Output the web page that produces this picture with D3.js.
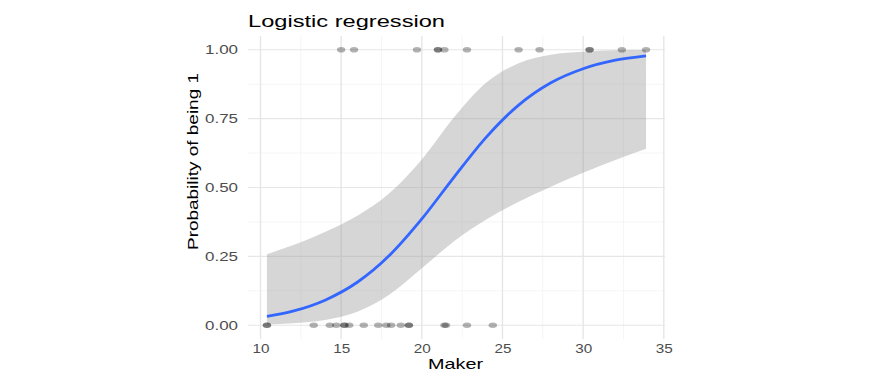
<!DOCTYPE html>
<html>
<head>
<meta charset="utf-8">
<script src="https://cdn.jsdelivr.net/npm/d3@7"></script>
<style>
  body { margin: 0; background: #fff; }
  text { font-family: "Liberation Sans", Arial, sans-serif; }
</style>
</head>
<body>
<svg id="chart" width="880" height="375"></svg>
<script>
// mpg of cars, split by the 0/1 outcome
var mpgZero = [21.4, 18.7, 18.1, 14.3, 24.4, 22.8, 19.2, 17.8, 16.4, 17.3, 15.2, 10.4, 10.4, 14.7, 21.5, 15.5, 15.2, 13.3, 19.2];
var mpgOne = [21.0, 21.0, 22.8, 32.4, 30.4, 33.9, 27.3, 26.0, 30.4, 15.8, 19.7, 15.0, 21.4];

// fitted curve and its band
var curveX = [10.4, 12, 14, 16, 18, 20, 22, 24, 26, 28, 30, 32, 33.9];
var fitP = [0.032, 0.051, 0.091, 0.156, 0.254, 0.386, 0.538, 0.683, 0.799, 0.880, 0.931, 0.962, 0.978];
var lowerP = [0.003, 0.007, 0.019, 0.049, 0.112, 0.207, 0.305, 0.384, 0.448, 0.503, 0.554, 0.600, 0.641];
var upperP = [0.258, 0.290, 0.338, 0.397, 0.480, 0.602, 0.755, 0.881, 0.951, 0.982, 0.993, 0.998, 0.999];

var xTicks = [10, 15, 20, 25, 30, 35],
	xMinor = [12.5, 17.5, 22.5, 27.5, 32.5],
	yTicks = [0, 0.25, 0.5, 0.75, 1],
	yMinor = [0.125, 0.375, 0.625, 0.875];

function draw(){

	var svg = d3.select("#chart");

	var pLeft = 248, pRight = 665, pTop = 36, pBottom = 339;

	var x = d3.scaleLinear().domain([9.225, 35.075]).range([pLeft, pRight]);
	var y = d3.scaleLinear().domain([-0.05, 1.05]).range([pBottom, pTop]);

	var grid = svg.append("g");

	grid.selectAll(".vminor").data(xMinor).enter().append("line")
		.attr("x1", function(d){ return x(d); }).attr("x2", function(d){ return x(d); })
		.attr("y1", pTop).attr("y2", pBottom)
		.attr("stroke", "#f2f2f2").attr("stroke-width", 0.8);

	grid.selectAll(".hminor").data(yMinor).enter().append("line")
		.attr("y1", function(d){ return y(d); }).attr("y2", function(d){ return y(d); })
		.attr("x1", pLeft).attr("x2", pRight)
		.attr("stroke", "#f2f2f2").attr("stroke-width", 0.8);

	grid.selectAll(".vmajor").data(xTicks).enter().append("line")
		.attr("x1", function(d){ return x(d); }).attr("x2", function(d){ return x(d); })
		.attr("y1", pTop).attr("y2", pBottom)
		.attr("stroke", "#e6e6e6").attr("stroke-width", 1.4);

	grid.selectAll(".hmajor").data(yTicks).enter().append("line")
		.attr("y1", function(d){ return y(d); }).attr("y2", function(d){ return y(d); })
		.attr("x1", pLeft).attr("x2", pRight)
		.attr("stroke", "#e6e6e6").attr("stroke-width", 1.1);

	// confidence band
	var band = curveX.map(function(d, i){ return {x: d, lo: lowerP[i], hi: upperP[i]}; });
	svg.append("path")
		.datum(band)
		.attr("fill", "#999999")
		.attr("fill-opacity", 0.4)
		.attr("d", d3.area()
			.x(function(d){ return x(d.x); })
			.y0(function(d){ return y(d.lo); })
			.y1(function(d){ return y(d.hi); })
			.curve(d3.curveMonotoneX));

	// points
	var pts = mpgZero.map(function(d){ return {x: d, y: 0}; })
		.concat(mpgOne.map(function(d){ return {x: d, y: 1}; }));

	svg.append("g").selectAll("ellipse").data(pts).enter().append("ellipse")
		.attr("cx", function(d){ return x(d.x); })
		.attr("cy", function(d){ return y(d.y); })
		.attr("rx", 4.2).attr("ry", 2.8)
		.attr("fill", "#000").attr("fill-opacity", 0.3);

	// fitted line
	var fit = curveX.map(function(d, i){ return {x: d, p: fitP[i]}; });
	svg.append("path")
		.datum(fit)
		.attr("fill", "none")
		.attr("stroke", "#3366ff")
		.attr("stroke-width", 2.8)
		.attr("d", d3.line()
			.x(function(d){ return x(d.x); })
			.y(function(d){ return y(d.p); })
			.curve(d3.curveMonotoneX));

	// axes
	var yAxis = svg.append("g")
		.attr("transform", "translate(238,0)")
		.call(d3.axisLeft(y).tickValues(yTicks).tickSize(0).tickPadding(0).tickFormat(d3.format(".2f")));
	yAxis.select(".domain").remove();
	yAxis.selectAll("text")
		.attr("fill", "#4d4d4d").attr("font-size", 12)
		.attr("font-family", "Liberation Sans, Arial, sans-serif")
		.attr("textLength", 33).attr("lengthAdjust", "spacingAndGlyphs");

	var xAxis = svg.append("g")
		.attr("transform", "translate(0," + pBottom + ")")
		.call(d3.axisBottom(x).tickValues(xTicks).tickSize(0).tickPadding(5));
	xAxis.select(".domain").remove();
	xAxis.selectAll("text")
		.attr("fill", "#4d4d4d").attr("font-size", 12)
		.attr("font-family", "Liberation Sans, Arial, sans-serif")
		.attr("textLength", 17).attr("lengthAdjust", "spacingAndGlyphs");

	// titles
	svg.append("text")
		.attr("x", pLeft).attr("y", 27)
		.attr("font-size", 16.5)
		.attr("fill", "#000")
		.attr("textLength", 197).attr("lengthAdjust", "spacingAndGlyphs")
		.text("Logistic regression");

	svg.append("text")
		.attr("x", 455.5).attr("y", 369)
		.attr("text-anchor", "middle")
		.attr("font-size", 14.5)
		.attr("fill", "#000")
		.attr("textLength", 55).attr("lengthAdjust", "spacingAndGlyphs")
		.text("Maker");

	svg.append("text")
		.attr("transform", "translate(197.5,161.5) rotate(-90)")
		.attr("text-anchor", "middle")
		.attr("font-size", 15)
		.attr("fill", "#000")
		.attr("textLength", 177).attr("lengthAdjust", "spacingAndGlyphs")
		.text("Probability of being 1");
}

draw();
</script>
</body>
</html>
